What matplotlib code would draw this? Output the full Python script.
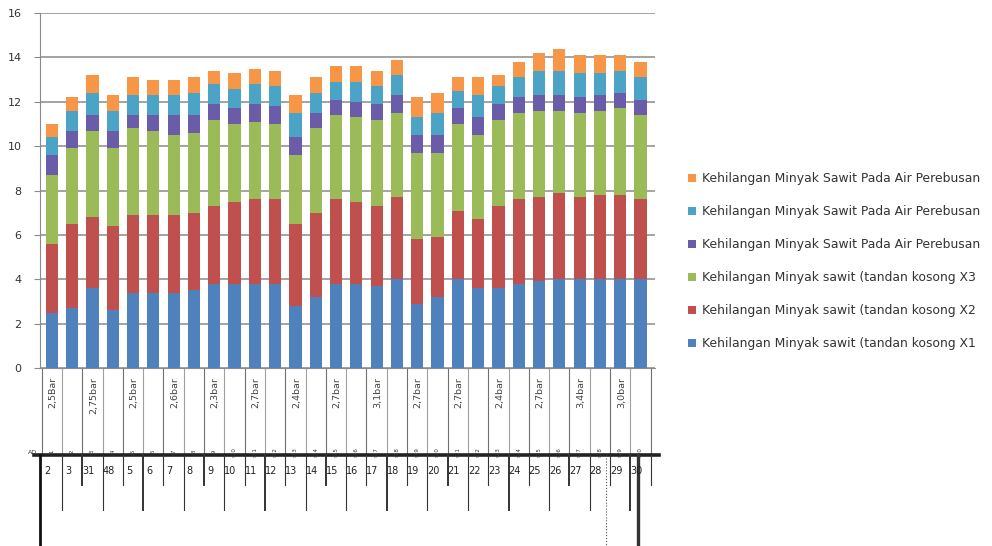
import numpy as np
import matplotlib.pyplot as plt

# kehilangan minyak per sampel (%), lapisan dari bawah ke atas
tkk_x1 = [2.5, 2.7, 3.6, 2.6, 3.4, 3.4, 3.4, 3.5, 3.8, 3.8, 3.8, 3.8, 2.8, 3.2, 3.8,
          3.8, 3.7, 4.0, 2.9, 3.2, 4.0, 3.6, 3.6, 3.8, 3.9, 4.0, 4.0, 4.0, 4.0, 4.0]
tkk_x2 = [3.1, 3.8, 3.2, 3.8, 3.5, 3.5, 3.5, 3.5, 3.5, 3.7, 3.8, 3.8, 3.7, 3.8, 3.8,
          3.7, 3.6, 3.7, 2.9, 2.7, 3.1, 3.1, 3.7, 3.8, 3.8, 3.9, 3.7, 3.8, 3.8, 3.6]
tkk_x3 = [3.1, 3.4, 3.9, 3.5, 3.9, 3.8, 3.6, 3.6, 3.9, 3.5, 3.5, 3.4, 3.1, 3.8, 3.8,
          3.8, 3.9, 3.8, 3.9, 3.8, 3.9, 3.8, 3.9, 3.9, 3.9, 3.7, 3.8, 3.8, 3.9, 3.8]
air_x1 = [0.9, 0.8, 0.7, 0.8, 0.6, 0.7, 0.9, 0.8, 0.7, 0.7, 0.8, 0.8, 0.8, 0.7, 0.7,
          0.7, 0.7, 0.8, 0.8, 0.8, 0.7, 0.8, 0.7, 0.7, 0.7, 0.7, 0.7, 0.7, 0.7, 0.7]
air_x2 = [0.8, 0.9, 1.0, 0.9, 0.9, 0.9, 0.9, 1.0, 0.9, 0.9, 0.9, 0.9, 1.1, 0.9, 0.8,
          0.9, 0.8, 0.9, 0.8, 1.0, 0.8, 1.0, 0.8, 0.9, 1.1, 1.1, 1.1, 1.0, 1.0, 1.0]
air_x3 = [0.6, 0.6, 0.8, 0.7, 0.8, 0.7, 0.7, 0.7, 0.6, 0.7, 0.7, 0.7, 0.8, 0.7, 0.7,
          0.7, 0.7, 0.7, 0.9, 0.9, 0.6, 0.8, 0.5, 0.7, 0.8, 1.0, 0.8, 0.8, 0.7, 0.7]

tekanan = ['2,5Bar', '2,75bar', '2,5bar', '2,6bar', '2,3bar', '2,7bar', '2,4bar', '2,7bar',
           '3,1bar', '2,7bar', '2,7bar', '2,4bar', '2,7bar', '3,4bar', '3,0bar']
no_sampel = ['2', '3', '31', '48', '5', '6', '7', '8', '9', '10', '11', '12', '13', '14', '15',
             '16', '17', '18', '19', '20', '21', '22', '23', '24', '25', '26', '27', '28', '29', '30']

nama = ['Kehilangan Minyak sawit (tandan kosong X1',
        'Kehilangan Minyak sawit (tandan kosong X2',
        'Kehilangan Minyak sawit (tandan kosong X3',
        'Kehilangan Minyak Sawit Pada Air Perebusan',
        'Kehilangan Minyak Sawit Pada Air Perebusan',
        'Kehilangan Minyak Sawit Pada Air Perebusan']
warna = ['#4F81BD', '#C0504D', '#9BBB59', '#6A5CA8', '#4BA3C6', '#F79646']

data = [tkk_x1, tkk_x2, tkk_x3, air_x1, air_x2, air_x3]
n = len(tkk_x1)
x = np.arange(n)

fig = plt.figure(figsize=(9.92, 5.46), dpi=100)
ax = fig.add_axes([0.040, 0.326, 0.620, 0.650])

bawah = np.zeros(n)
for vals, c, lab in zip(data, warna, nama):
    ax.bar(x, vals, 0.6, bottom=bawah, color=c, label=lab, zorder=3)
    bawah += np.array(vals)

ax.set_xlim(-0.6, n - 0.3)
ax.set_ylim(0, 16)
ax.set_yticks(range(0, 17, 2))
ax.set_xticks([])
ax.yaxis.grid(True, color='#8a8a8a', lw=1.1)
ax.set_axisbelow(True)
for s in ['top', 'right']:
    ax.spines[s].set_visible(False)
ax.spines['left'].set_color('#8a8a8a')
ax.spines['bottom'].set_color('#8a8a8a')
ax.tick_params(axis='y', length=4, color='#8a8a8a', labelsize=8, labelcolor='#333333', pad=9)

# label kategori bertingkat di bawah sumbu
tr = ax.get_xaxis_transform()
for i in range(n + 1):
    b = i - 0.5
    ax.plot([b, b], [0, -0.245], transform=tr, clip_on=False,
            color='#a0a0a0' if i % 2 else '#707070', lw=0.8)
for g, lab in enumerate(tekanan):
    ax.text(2 * g + 0.05, -0.025, lab, rotation=90, ha='center', va='top',
            fontsize=6.8, color='#444444', transform=tr)

ax.plot([-0.9, n - 0.1], [-0.245, -0.245], transform=tr, clip_on=False, color='#222222', lw=2.6)
ax.text(-0.75, -0.238, 'AD', fontsize=4.5, ha='right', va='center', color='#333333', transform=tr)
for i in range(n):
    ax.text(i, -0.236, 's%d' % (i + 1), fontsize=4, ha='center', va='center',
            color='#333333', rotation=90, transform=tr)

for i, lab in enumerate(no_sampel):
    ax.text(i - 0.2, -0.29, lab, fontsize=7, ha='center', va='center', color='#222222', transform=tr)
for i in range(n):
    b = i + 0.5
    ax.plot([b, b], [-0.245, -0.33 if i % 2 else -0.40], transform=tr, clip_on=False,
            color='#333333', lw=1.4 if i % 3 == 1 else 0.8)
ax.plot([-0.6, -0.6], [-0.245, -0.52], transform=tr, clip_on=False, color='#111111', lw=2)
ax.plot([n - 2.7, n - 2.7], [-0.245, -0.52], transform=tr, clip_on=False, color='#555555', lw=0.8, ls=':')
ax.plot([n - 1.1, n - 1.1], [-0.245, -0.52], transform=tr, clip_on=False, color='#333333', lw=2.4)

h, l = ax.get_legend_handles_labels()
fig.legend(h[::-1], l[::-1], loc='upper left', bbox_to_anchor=(0.694, 0.685),
           frameon=False, fontsize=8.9, labelspacing=1.62, handlelength=0.6,
           handleheight=0.6, handletextpad=0.5, borderpad=0, borderaxespad=0,
           labelcolor='#333333')

fig.savefig('out.png', dpi=100)
